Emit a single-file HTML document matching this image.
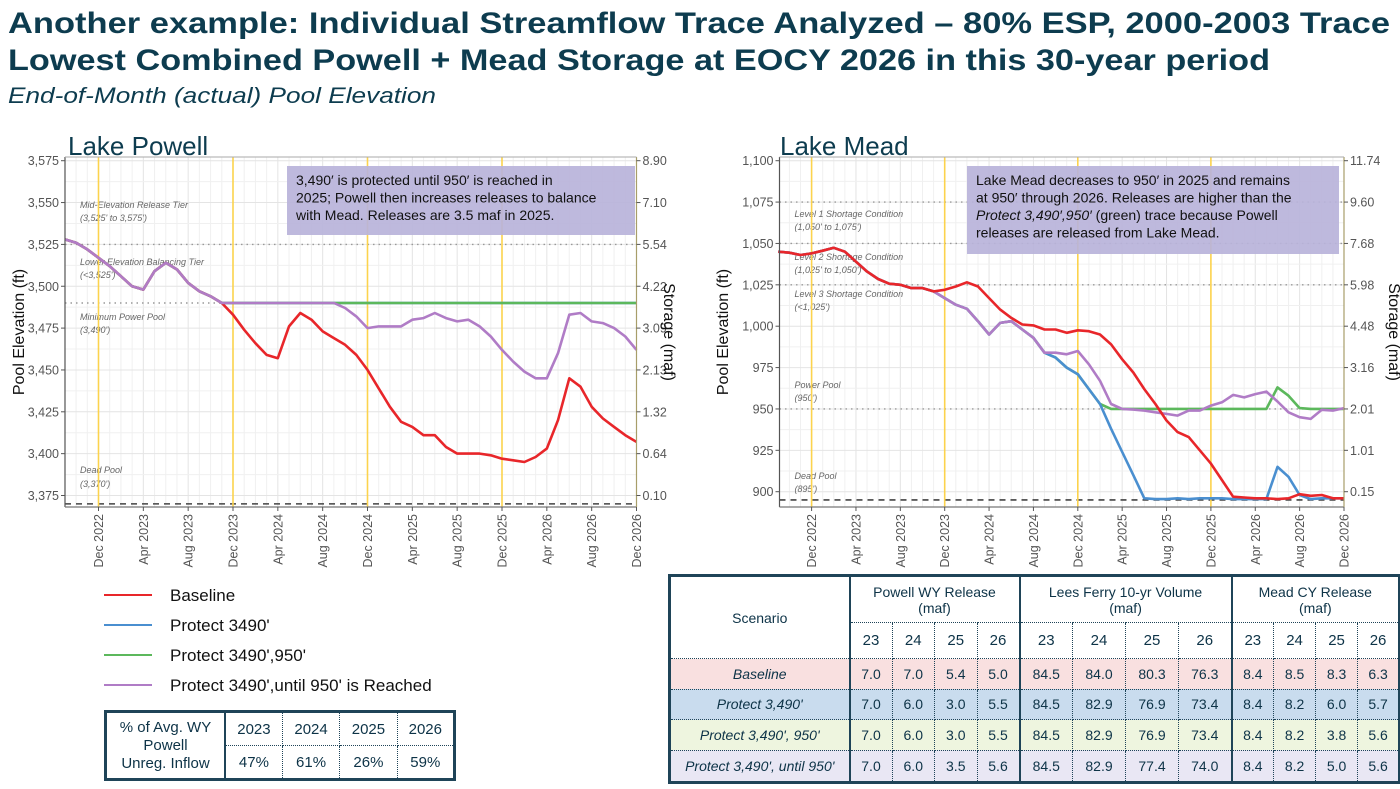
<!DOCTYPE html>
<html><head><meta charset="utf-8">
<style>
body{margin:0;background:#fff;width:1400px;height:789px;overflow:hidden;font-family:"Liberation Sans",sans-serif;position:relative}
svg{position:absolute;left:0;top:0}
table{border-collapse:collapse;position:absolute;font-family:"Liberation Sans",sans-serif;color:#0d3347;table-layout:fixed}
td{text-align:center;padding:0;border:1px dotted #1f4458}
</style></head><body>
<svg id="chart" width="1400" height="789">
<text x="8" y="33" font-size="30" font-weight="bold" fill="#0d3c4f" textLength="1382" lengthAdjust="spacingAndGlyphs">Another example: Individual Streamflow Trace Analyzed – 80% ESP, 2000-2003 Trace</text>
<text x="8" y="70" font-size="30" font-weight="bold" fill="#0d3c4f" textLength="1262" lengthAdjust="spacingAndGlyphs">Lowest Combined Powell + Mead Storage at EOCY 2026 in this 30-year period</text>
<text x="8" y="103" font-size="22" font-style="italic" fill="#0d3c4f" textLength="428" lengthAdjust="spacingAndGlyphs">End-of-Month (actual) Pool Elevation</text>
</svg>

<table style="left:104px;top:710px;width:352px;height:71px;border:3px solid #1f4458;font-size:15px">
<tr style="height:34px"><td rowspan="2" style="width:117px;border-right:2px solid #1f4458;font-size:15px;line-height:18px">% of Avg. WY<br>Powell<br>Unreg. Inflow</td><td>2023</td><td>2024</td><td>2025</td><td>2026</td></tr>
<tr><td>47%</td><td>61%</td><td>26%</td><td>59%</td></tr>
</table>

<table style="left:668px;top:574px;width:730px;height:210px;border:3px solid #1f4458;font-size:14px">
<colgroup><col style="width:180px"><col span="4" style="width:42.5px"><col span="4" style="width:53px"><col span="4" style="width:42px"></colgroup>
<tr style="height:47px"><td rowspan="2" style="border-right:2px solid #1f4458">Scenario</td><td colspan="4" style="border-right:2px solid #1f4458">Powell WY Release<br>(maf)</td><td colspan="4" style="border-right:2px solid #1f4458">Lees Ferry 10-yr Volume<br>(maf)</td><td colspan="4">Mead CY Release<br>(maf)</td></tr>
<tr style="height:36px;font-size:15px"><td>23</td><td>24</td><td>25</td><td style="border-right:2px solid #1f4458">26</td><td>23</td><td>24</td><td>25</td><td style="border-right:2px solid #1f4458">26</td><td>23</td><td>24</td><td>25</td><td>26</td></tr>
<tr style="background:#f9e0e0"><td style="font-style:italic;border-right:2px solid #1f4458">Baseline</td><td>7.0</td><td>7.0</td><td>5.4</td><td style="border-right:2px solid #1f4458">5.0</td><td>84.5</td><td>84.0</td><td>80.3</td><td style="border-right:2px solid #1f4458">76.3</td><td>8.4</td><td>8.5</td><td>8.3</td><td>6.3</td></tr>
<tr style="background:#c9dcee"><td style="font-style:italic;border-right:2px solid #1f4458">Protect 3,490'</td><td>7.0</td><td>6.0</td><td>3.0</td><td style="border-right:2px solid #1f4458">5.5</td><td>84.5</td><td>82.9</td><td>76.9</td><td style="border-right:2px solid #1f4458">73.4</td><td>8.4</td><td>8.2</td><td>6.0</td><td>5.7</td></tr>
<tr style="background:#eef5df"><td style="font-style:italic;border-right:2px solid #1f4458">Protect 3,490', 950'</td><td>7.0</td><td>6.0</td><td>3.0</td><td style="border-right:2px solid #1f4458">5.5</td><td>84.5</td><td>82.9</td><td>76.9</td><td style="border-right:2px solid #1f4458">73.4</td><td>8.4</td><td>8.2</td><td>3.8</td><td>5.6</td></tr>
<tr style="background:#e9e7f4"><td style="font-style:italic;border-right:2px solid #1f4458">Protect 3,490', until 950'</td><td>7.0</td><td>6.0</td><td>3.5</td><td style="border-right:2px solid #1f4458">5.6</td><td>84.5</td><td>82.9</td><td>77.4</td><td style="border-right:2px solid #1f4458">74.0</td><td>8.4</td><td>8.2</td><td>5.0</td><td>5.6</td></tr>
</table>

<script>
// Months from Sep 2022 (index 0) to Dec 2026 (index 51)
const tickLabels = ["Dec 2022","Apr 2023","Aug 2023","Dec 2023","Apr 2024","Aug 2024","Dec 2024","Apr 2025","Aug 2025","Dec 2025","Apr 2026","Aug 2026","Dec 2026"];
const seriesNames = ["Baseline","Protect 3490'","Protect 3490',950'","Protect 3490',until 950' is Reached"];
const powellTicks = [3375,3400,3425,3450,3475,3500,3525,3550,3575];
const powellStorage = ["0.10","0.64","1.32","2.13","3.09","4.22","5.54","7.10","8.90"];
const meadTicks = [900,925,950,975,1000,1025,1050,1075,1100];
const meadStorage = ["0.15","1.01","2.01","3.16","4.48","5.98","7.68","9.60","11.74"];

const powellPurple = [3528,3526,3522,3517,3512,3506,3500,3498,3509,3514,3510,3502,3497,3494,3490,3490,3490,3490,3490,3490,3490,3490,3490,3490,3490,3487,3482,3475,3476,3476,3476,3480,3481,3484,3481,3479,3480,3476,3470,3462,3455,3449,3445,3445,3460,3483,3484,3479,3478,3475,3470,3462];
const powellRed = [3528,3526,3522,3517,3512,3506,3500,3498,3509,3514,3510,3502,3497,3494,3490,3483,3474,3466,3459,3457,3476,3484,3480,3473,3469,3465,3459,3450,3439,3428,3419,3416,3411,3411,3404,3400,3400,3400,3399,3397,3396,3395,3398,3403,3420,3445,3440,3428,3421,3416,3411,3407];
const powellGreen = [3528,3526,3522,3517,3512,3506,3500,3498,3509,3514,3510,3502,3497,3494,3490,3490,3490,3490,3490,3490,3490,3490,3490,3490,3490,3490,3490,3490,3490,3490,3490,3490,3490,3490,3490,3490,3490,3490,3490,3490,3490,3490,3490,3490,3490,3490,3490,3490,3490,3490,3490,3490];
const powellBlue = powellGreen.slice();

const meadPurple = [1045,1044.4,1043,1044,1045.6,1047.4,1045,1039,1033,1028.5,1025.7,1025,1023,1023,1021,1017,1013,1010.5,1003,995,1002,1003,998,993,984,984,983,985,977,967,953,950,949.6,949,948,947,946,949,949,952,954,958.5,957,959,960.5,954.5,948,945,944,949.5,949,950.5];
const meadRed = [1045,1044.4,1043,1044,1045.6,1047.4,1045,1039,1033,1028.5,1025.7,1025,1023,1023,1021,1022,1024,1026.5,1024,1017,1010,1005,1001,1000.5,998,998,996,997.5,997,995,989,980,972,962,953,943,936,933,925,917,907,897,896.5,896,896,895.5,896,898.5,897.5,898,896,896];
const meadGreen = [1045,1044.4,1043,1044,1045.6,1047.4,1045,1039,1033,1028.5,1025.7,1025,1023,1023,1021,1017,1013,1010.5,1003,995,1002,1003,998,993,984,981,975,971,962,953,950,950,950,950,950,950,950,950,950,950,950,950,950,950,950,963,958,950.5,950,950,950,950];
const meadBlue = [1045,1044.4,1043,1044,1045.6,1047.4,1045,1039,1033,1028.5,1025.7,1025,1023,1023,1021,1017,1013,1010.5,1003,995,1002,1003,998,993,984,981,975,971,962,953,938,924,910,896,895.5,895.5,896,895.5,896,896,896,895.5,895.5,895.5,895.5,915,909,898,895.5,896,896,896];

const NS="http://www.w3.org/2000/svg";
const svg=document.getElementById('chart');
function mk(tag,attrs,parent){const e=document.createElementNS(NS,tag);for(const k in attrs)e.setAttribute(k,attrs[k]);(parent||svg).appendChild(e);return e;}
const colors={red:"#e8262a",blue:"#4a8fd0",green:"#5cb85c",purple:"#b07cc6"};

function drawChart(cfg){
  const g=mk('g',{});
  
  
  const x=i=>cfg.left+(i-3)*(cfg.right-cfg.left)/48 + 0; // index 3 = Dec 2022
  const x0=cfg.dec22, x1=cfg.right, pm=(x1-x0)/48;
  const xi=i=>x0+(i-3)*pm;
  const y=v=>cfg.yTop+(cfg.vMax-v)*(cfg.yBot-cfg.yTop)/(cfg.vMax-cfg.vMin);
  const L=cfg.left,R=cfg.right,T=cfg.plotTop,B=cfg.plotBot;
  mk('rect',{x:L,y:T,width:R-L,height:B-T,fill:'#fff'},g);
  // grid
  for(let i=0;i<=51;i++){const xx=xi(i);if(xx<L-0.5)continue;mk('line',{x1:xx,x2:xx,y1:T,y2:B,stroke:(i-3)%4===0?'#e4e4e4':'#f0f0f0','stroke-width':1},g);}
  for(let v=cfg.vMin-12.5;v<=cfg.vMax;v+=12.5){const yy=y(v);if(yy>B||yy<T-1)continue;mk('line',{x1:L,x2:R,y1:yy,y2:yy,stroke:(v%25===0)?'#e4e4e4':'#f0f0f0','stroke-width':1},g);}
  // reference lines
  cfg.refs.forEach(r=>{const l=mk('line',{x1:L,x2:R,y1:y(r.v),y2:y(r.v),stroke:r.dash?'#444':'#999','stroke-width':r.dash?1.6:1.4,'stroke-dasharray':r.dash?'6,5':'1.5,4'},g);
    
    });
  cfg.labels.forEach(t=>{const e=mk('text',{x:L+15,y:t[1],'font-size':9,'font-style':'italic',fill:'#666'},g);e.textContent=t[0];
    
    });
  // yellow year lines
  for(let k=0;k<4;k++){const xx=xi(3+12*k);const l=mk('line',{x1:xx,x2:xx,y1:T,y2:B,stroke:'#fcd34d','stroke-width':1.6},g);
    
    }
  // series
  cfg.series.forEach(s=>{const pts=s.d.map((v,i)=>xi(i).toFixed(1)+','+y(v).toFixed(1)).join(' ');
    const p=mk('polyline',{points:pts,fill:'none',stroke:s.c,'stroke-width':2.6,'stroke-linejoin':'round'},g);
    
    });
  // axes
  mk('line',{x1:L,x2:L,y1:T,y2:B,stroke:'#555','stroke-width':1.2},g);
  mk('line',{x1:L,x2:R,y1:B,y2:B,stroke:'#777','stroke-width':1.2},g);
  mk('line',{x1:R,x2:R,y1:T,y2:B,stroke:'#a89e6a','stroke-width':1.2},g);
  mk('line',{x1:L,x2:R,y1:T,y2:T,stroke:'#aaa','stroke-width':1},g);
  cfg.ticks.forEach((v,i)=>{const yy=y(v);
    mk('line',{x1:L-4,x2:L,y1:yy,y2:yy,stroke:'#555'},g);
    const t=mk('text',{x:L-6,y:yy+4.5,'font-size':12.5,fill:'#555','text-anchor':'end'},g);t.textContent=cfg.fmt(v);
    
    
    mk('line',{x1:R,x2:R+4,y1:yy,y2:yy,stroke:'#555'},g);
    const t2=mk('text',{x:R+6,y:yy+4.5,'font-size':12.5,fill:'#555'},g);t2.textContent=cfg.storage[i];
    
    });
  tickLabels.forEach((lab,k)=>{const xx=xi(3+4*k);
    mk('line',{x1:xx,x2:xx,y1:B,y2:B+4,stroke:'#555'},g);
    const t=mk('text',{x:0,y:0,'font-size':12.5,fill:'#555','text-anchor':'end',transform:`translate(${xx+4.5},${B+7}) rotate(-90)`},g);t.textContent=lab;
    
    });
  const yt=mk('text',{x:0,y:0,'font-size':16,fill:'#111','text-anchor':'middle',transform:`translate(${cfg.ytX},${(T+B)/2}) rotate(-90)`},g);yt.textContent='Pool Elevation (ft)';
  
  
  const st=mk('text',{x:0,y:0,'font-size':16,fill:'#111','text-anchor':'middle',transform:`translate(${cfg.stX},${(T+B)/2}) rotate(90)`},g);st.textContent='Storage (maf)';
  
  
  const ti=mk('text',{x:cfg.titleX,y:155,'font-size':26,fill:'#0d3c4f'},g);ti.textContent=cfg.title;
  
  
  // annotation
  const a=cfg.note;
  mk('rect',{x:a.x,y:a.y,width:a.w,height:a.h,fill:'#b9b3da',opacity:0.92},g);
  a.lines.forEach((ln,i)=>{const t=mk('text',{x:a.x+9,y:a.y+19+i*17.5,'font-size':14,fill:'#111'},g);t.innerHTML=ln;
    
    });
}

drawChart({name:'lake-powell-chart',title:'Lake Powell',titleX:68,left:65,dec22:98.5,right:636.5,plotTop:157,plotBot:507,yTop:160.7,yBot:495.5,vMin:3375,vMax:3575,
  ticks:powellTicks,storage:powellStorage,fmt:v=>v.toLocaleString('en-US'),ytX:24,stX:664,
  refs:[{v:3525},{v:3490},{v:3370,dash:true}],
  labels:[["Mid-Elevation Release Tier",208],["(3,525' to 3,575')",221],["Lower Elevation Balancing Tier",265],["(<3,525')",278],["Minimum Power Pool",320],["(3,490')",333],["Dead Pool",473],["(3,370')",487]],
  series:[{n:'powell-blue-line',c:colors.blue,d:powellBlue},{n:'powell-green-line',c:colors.green,d:powellGreen},{n:'powell-red-line',c:colors.red,d:powellRed},{n:'powell-purple-line',c:colors.purple,d:powellPurple}],
  note:{x:287,y:166,w:348,h:69,lines:["3,490′ is protected until 950′ is reached in","2025; Powell then increases releases to balance","with Mead. Releases are 3.5 maf in 2025."]}});

drawChart({name:'lake-mead-chart',title:'Lake Mead',titleX:780,left:779.5,dec22:811.6,right:1344,plotTop:157,plotBot:507,yTop:160.7,yBot:491.7,vMin:900,vMax:1100,
  ticks:meadTicks,storage:meadStorage,fmt:v=>v.toLocaleString('en-US'),ytX:728,stX:1389,
  refs:[{v:1075},{v:1050},{v:1025},{v:950},{v:895,dash:true}],
  labels:[["Level 1 Shortage Condition",217],["(1,050' to 1,075')",230],["Level 2 Shortage Condition",260],["(1,025' to 1,050')",273],["Level 3 Shortage Condition",297],["(<1,025')",310],["Power Pool",388],["(950')",401],["Dead Pool",479],["(895')",492]],
  series:[{n:'mead-green-line',c:colors.green,d:meadGreen},{n:'mead-blue-line',c:colors.blue,d:meadBlue},{n:'mead-purple-line',c:colors.purple,d:meadPurple},{n:'mead-red-line',c:colors.red,d:meadRed}],
  note:{x:967,y:166,w:372,h:88,lines:["Lake Mead decreases to 950′ in 2025 and remains","at 950′ through 2026. Releases are higher than the","<tspan font-style='italic'>Protect 3,490′,950′</tspan> (green) trace because Powell","releases are released from Lake Mead."]}});

// legend
const legColors=[colors.red,colors.blue,colors.green,colors.purple];
seriesNames.forEach((nm,i)=>{const yy=595+i*30;
  const l=mk('line',{x1:104,x2:152,y1:yy,y2:yy,stroke:legColors[i],'stroke-width':2});
  
  
  const t=mk('text',{x:170,y:yy+6,'font-size':17,fill:'#111'});t.textContent=nm;
  
  });
</script>
</body></html>
